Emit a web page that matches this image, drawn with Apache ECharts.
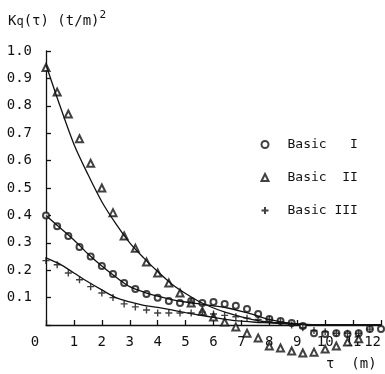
<!DOCTYPE html>
<html>
<head>
<meta charset="utf-8">
<script src="https://cdn.jsdelivr.net/npm/echarts@6/dist/echarts.min.js"></script>
<style>
  html, body { margin: 0; padding: 0; background: #fff; }
  #chart { width: 385px; height: 374px; }
</style>
</head>
<body>
<div id="chart"></div>
<script>
// lag tau (m), sampled every 0.4 m
const tau = [0, 0.4, 0.8, 1.2, 1.6, 2.0, 2.4, 2.8, 3.2, 3.6, 4.0, 4.4, 4.8, 5.2, 5.6, 6.0,
  6.4, 6.8, 7.2, 7.6, 8.0, 8.4, 8.8, 9.2, 9.6, 10.0, 10.4, 10.8, 11.2, 11.6, 12.0]
// measured points
const basic1 = [0.40, 0.36, 0.325, 0.285, 0.25, 0.215, 0.186, 0.153, 0.131, 0.113, 0.099, 0.088, 0.08,
  0.088, 0.08, 0.084, 0.077, 0.07, 0.058, 0.04, 0.022, 0.015, 0.007, -0.004, -0.03, -0.033,
  -0.03, -0.033, -0.03, -0.015, -0.015]
const basic2 = [0.94, 0.85, 0.77, 0.68, 0.59, 0.50, 0.41, 0.325, 0.28, 0.23, 0.19, 0.153, 0.117,
  0.08, 0.05, 0.029, 0.011, -0.007, -0.03, -0.047, -0.077, -0.084, -0.095, -0.102, -0.099,
  -0.088, -0.077, -0.062, -0.05]
const basic3 = [0.235, 0.22, 0.19, 0.165, 0.14, 0.117, 0.10, 0.077, 0.066, 0.055, 0.044, 0.044, 0.044,
  0.044, 0.047, 0.04, 0.035, 0.03, 0.025, 0.02, 0.02, 0.01, 0.0, -0.01, -0.02, -0.025,
  -0.03, -0.03, -0.03, -0.015]
// fitted curves
const fitTau = [0, 0.5, 1, 1.5, 2, 2.5, 3, 3.5, 4, 4.5, 5, 5.5, 6, 6.5, 7, 7.5, 8, 9, 10, 11, 12]
const fit1 = [0.40, 0.355, 0.31, 0.26, 0.215, 0.175, 0.14, 0.12, 0.105, 0.093, 0.084, 0.077, 0.07,
  0.062, 0.05, 0.036, 0.02, 0.004, 0, 0, 0]
const fit2 = [0.95, 0.80, 0.66, 0.55, 0.45, 0.37, 0.30, 0.245, 0.195, 0.15, 0.115, 0.085, 0.062,
  0.044, 0.03, 0.018, 0.01, 0.003, 0, 0, 0]
const fit3 = [0.245, 0.222, 0.19, 0.158, 0.128, 0.10, 0.084, 0.072, 0.064, 0.055, 0.045, 0.036, 0.028,
  0.02, 0.014, 0.01, 0.008, 0.003, 0, 0, 0]
const names = ['Basic   I', 'Basic  II', 'Basic III']

const font = 'DejaVu Sans Mono'
const ink = '#111'
const pair = (xs, ys) => ys.map((v, i) => [xs[i], v])
const crossPath = 'path://M5,0 L5,10 M0,5 L10,5'

const chart = echarts.init(document.getElementById('chart'))

const markStyle = { color: ink, borderColor: ink, borderWidth: 1.2 }
const curve = (data) => ({
  type: 'line',
  data: data,
  smooth: 0.3,
  showSymbol: false,
  silent: true,
  clip: false,
  lineStyle: { color: ink, width: 1.3 }
})

chart.setOption({
  animation: false,
  backgroundColor: '#fff',
  grid: { left: 46, right: 4, top: 51, bottom: 49 },
  legend: {
    orient: 'vertical',
    left: 254,
    top: 133,
    itemWidth: 7,
    itemHeight: 7,
    itemGap: 20,
    data: names,
    textStyle: { fontFamily: font, fontSize: 13, color: ink, padding: [0, 0, 0, 14] }
  },
  graphic: [
    {
      type: 'text',
      left: 8,
      top: 10,
      style: {
        text: '{k|K}{q|q}{k|(τ) (t/m)}{s|2}',
        rich: {
          k: { fontFamily: font, fontSize: 14, fill: ink, verticalAlign: 'bottom' },
          q: { fontFamily: font, fontSize: 12, fill: ink, padding: [4, 0, 0, 0], verticalAlign: 'bottom' },
          s: { fontFamily: font, fontSize: 11, fill: ink, padding: [0, 0, 7, 0], verticalAlign: 'bottom' }
        }
      }
    },
    {
      type: 'text',
      left: 326,
      top: 357,
      style: { text: 'τ  (m)', fontFamily: font, fontSize: 14, fill: ink }
    }
  ],
  xAxis: {
    type: 'value',
    min: 0,
    max: 12,
    interval: 1,
    splitLine: { show: false },
    axisLine: { lineStyle: { color: ink, width: 1.3 } },
    axisTick: { inside: true, length: 5, lineStyle: { color: ink, width: 1.3 } },
    axisLabel: {
      color: ink,
      fontFamily: font,
      fontSize: 14,
      margin: 10,
      alignMaxLabel: 'right',
      formatter: (v) => (v === 0 ? '{z|0}' : String(v)),
      rich: { z: { fontFamily: font, fontSize: 14, color: ink, padding: [0, 22, 0, 0] } }
    }
  },
  yAxis: {
    type: 'value',
    min: 0,
    max: 1,
    interval: 0.1,
    splitLine: { show: false },
    axisLine: { lineStyle: { color: ink, width: 1.3 } },
    axisTick: { inside: true, length: 5, lineStyle: { color: ink, width: 1.3 } },
    axisLabel: {
      color: ink,
      fontFamily: font,
      fontSize: 14,
      margin: 14,
      formatter: (v) => (v <= 0 ? '' : v.toFixed(1))
    }
  },
  series: [
    {
      name: names[0],
      type: 'scatter',
      data: pair(tau, basic1),
      symbol: 'emptyCircle',
      symbolSize: 6,
      clip: false,
      itemStyle: markStyle
    },
    {
      name: names[1],
      type: 'scatter',
      data: pair(tau, basic2),
      symbol: 'emptyTriangle',
      symbolSize: 7,
      clip: false,
      itemStyle: markStyle
    },
    {
      name: names[2],
      type: 'scatter',
      data: pair(tau, basic3),
      symbol: crossPath,
      symbolSize: 7,
      clip: false,
      itemStyle: { color: 'none', borderColor: ink, borderWidth: 1.4 }
    },
    curve(pair(fitTau, fit1)),
    curve(pair(fitTau, fit2)),
    curve(pair(fitTau, fit3))
  ]
})
</script>
</body>
</html>
